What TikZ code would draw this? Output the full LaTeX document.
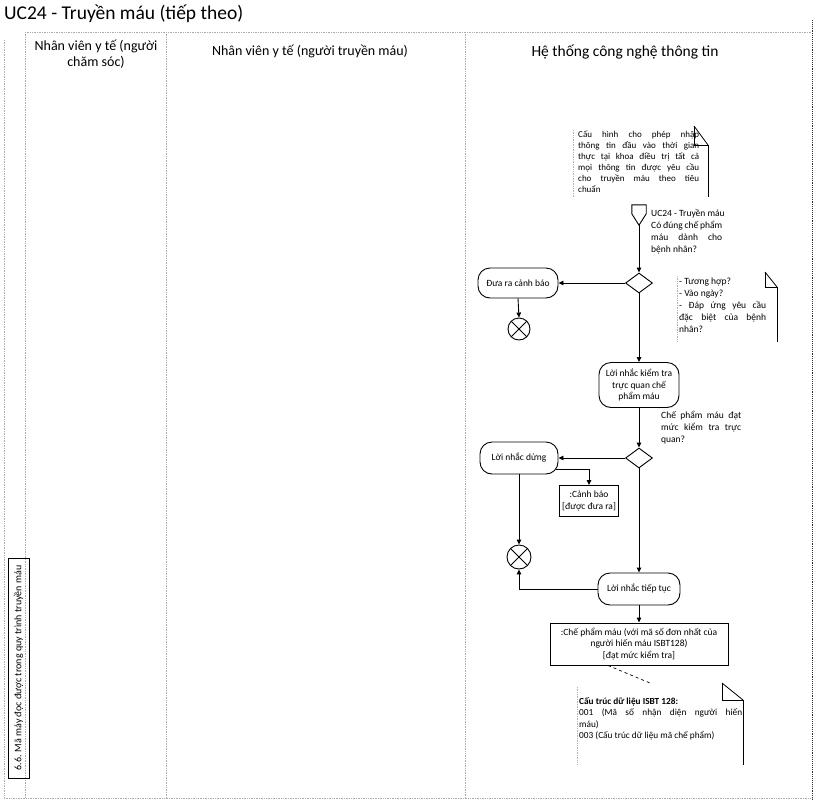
\documentclass[tikz,border=0pt]{standalone}
\usepackage{fontspec}
\setmainfont{Carlito}
\usetikzlibrary{arrows.meta,shapes.geometric,calc}
\newcommand{\notefold}[6]{%
  \draw[lanefaint] (#1,#2+4) -- (#1,#4);
  \draw[notepen] (#3-#5,#2) -- (#3-#5,#2+#6) -- (#3,#2+#6) -- (#3,#4);
  \draw[notepen] (#3-#5,#2) -- (#3,#2+#6);
}
\tikzset{
  lane/.style={gray!65, densely dotted, line width=0.7pt},
  lanefaint/.style={gray!60, densely dotted, line width=0.7pt},
  notepen/.style={black, line width=0.8pt},
  txt/.style={font=\fontsize{9.5}{11.8}\selectfont, inner sep=0pt},
  act/.style={draw, rounded corners=12pt, line width=0.9pt, align=center,
    font=\fontsize{9.5}{11.5}\selectfont, inner sep=2pt},
  obj/.style={draw, line width=0.9pt, align=center,
    font=\fontsize{9.5}{11.5}\selectfont, inner sep=2pt},
  dec/.style={draw, diamond, line width=0.9pt, minimum width=27pt,
    minimum height=20pt, inner sep=0pt, aspect=1.35},
  fin/.style={draw, circle, line width=0.9pt, minimum size=22pt, inner sep=0pt,
    path picture={\draw[line width=0.9pt]
      (path picture bounding box.north west) -- (path picture bounding box.south east)
      (path picture bounding box.north east) -- (path picture bounding box.south west);}},
  flow/.style={-{Triangle[length=5pt,width=4.5pt]}, line width=0.9pt},
  jtxt/.style={txt, align=justify, anchor=north west},
}
\begin{document}
\begin{tikzpicture}[x=1pt,y=-1pt]
\useasboundingbox (0,0) rectangle (815,804);
\fill[white] (0,0) rectangle (815,804);

% title and lanes
\node[anchor=west, font=\fontsize{19.5}{21}\selectfont, inner sep=0pt] (title) at (4,14) {UC24 - Truyền máu (tiếp theo)};
\draw[lane] (25,32) -- (812,32);
\draw[lane] (4,798) -- (812,798);
\draw[lane] (4,40) -- (4,798);
\draw[lane] (25,32) -- (25,798);
\draw[lane] (166,32) -- (166,798);
\draw[lane] (465,32) -- (465,798);
\draw[gray!40!black, densely dotted, line width=0.9pt] (812,20) -- (812,800);

\node[align=center, font=\fontsize{14}{15.5}\selectfont, inner sep=0pt] (h1) at (96,54) {Nhân viên y tế (người\\chăm sóc)};
\node[font=\fontsize{14}{15}\selectfont, inner sep=0pt] (h2) at (310,51) {Nhân viên y tế (người truyền máu)};
\node[font=\fontsize{15.5}{16}\selectfont, inner sep=0pt] (h3) at (625,52) {Hệ thống công nghệ thông tin};

% side label
\node[draw, line width=0.9pt, minimum width=220pt, minimum height=21pt, inner sep=0pt,
  rotate=90, font=\fontsize{10}{12}\selectfont] (side) at (18.5,668) {6.6. Mã máy đọc được trong quy trình truyền máu};

% note 1
\notefold{573}{126}{708}{197}{14}{19}
\node[jtxt, text width=121pt, font=\fontsize{9}{11}\selectfont] (n1) at (578,131)
  {Cấu hình cho phép nhập\linebreak thông tin đầu vào thời gian\linebreak thực tại khoa điều trị tất cả\linebreak mọi thông tin được yêu cầu\linebreak cho truyền máu theo tiêu\linebreak chuẩn};

% start
\node[minimum width=14pt, minimum height=20pt, inner sep=0pt] (start) at (639,215) {};
\draw[line width=0.9pt] (start.north west) -- (start.north east) -- ($(start.north east)+(0,9)$)
  -- (start.south) -- ($(start.north west)+(0,9)$) -- cycle;
\node[txt, anchor=west] (uclab) at (651,214) {UC24 - Truyền máu};
\node[jtxt, text width=71pt] (q1) at (651,221) {Có đúng chế phẩm\linebreak máu dành cho\linebreak bệnh nhân?};

% decision 1
\node[dec] (d1) at (639,283) {};
\node[act, minimum width=80pt, minimum height=30pt] (warn) at (518,283) {Đưa ra cảnh báo};
\node[fin] (f1) at (519,329) {};

% note 2
\notefold{677}{272}{777}{342}{12}{15}
\node[jtxt, text width=87pt] (n2) at (679,278)
  {- Tương hợp?\\- Vào ngày?\\- Đáp ứng yêu cầu\linebreak đặc biệt của bệnh\linebreak nhân?};

\node[act, minimum width=80pt, minimum height=45pt] (visual) at (639,385) {Lời nhắc kiểm tra\\trực quan chế\\phẩm máu};

% decision 2
\node[jtxt, text width=80pt] (q2) at (661,411) {Chế phẩm máu đạt\linebreak mức kiểm tra trực\linebreak quan?};
\node[dec] (d2) at (639,458) {};
\node[act, minimum width=78pt, minimum height=32pt] (stop) at (519,458) {Lời nhắc dừng};
\node[obj, minimum width=59pt, minimum height=31pt] (cb) at (589,501) {:Cảnh báo\\{[}được đưa ra{]}};
\node[fin, minimum size=24pt] (f2) at (519,557) {};
\node[act, minimum width=82pt, minimum height=32pt] (cont) at (639,589) {Lời nhắc tiếp tục};
\node[obj, minimum width=178pt, minimum height=42pt] (prod) at (639,644)
  {:Chế phẩm máu (với mã số đơn nhất của\\người hiến máu ISBT128)\\{[}đạt mức kiểm tra{]}};

% note 3
\notefold{577}{683}{743}{765}{21}{17}
\coordinate (n3a) at (650,683);
\node[txt, anchor=north west, align=justify, text width=163pt, font=\fontsize{9.3}{11.5}\selectfont] (n3) at (579,697)
  {\textbf{Cấu trúc dữ liệu ISBT 128:}\\001 (Mã số nhận diện người hiến\linebreak máu)\\003 (Cấu trúc dữ liệu mã chế phẩm)};

% flows
\draw[flow] (start.south) -- (d1.north);
\draw[flow] (d1.west) -- (warn.east);
\draw[flow] (warn.south) -- (f1.north);
\draw[flow] (d1.south) -- (visual.north);
\draw[flow] (visual.south) -- (d2.north);
\draw[flow] (d2.west) -- (stop.east);
\draw[flow] ([xshift=-2pt,yshift=-11pt]stop.east) -| (cb.north);
\draw[flow] (stop.south) -- (f2.north);
\draw[flow] (d2.south) -- (cont.north);
\draw[flow] (cont.west) -| (f2.south);
\draw[flow] (cont.south) -- (prod.north);
\draw[dashed, line width=0.7pt] ([xshift=-31pt]prod.south) -- (n3a);
\end{tikzpicture}
\end{document}
